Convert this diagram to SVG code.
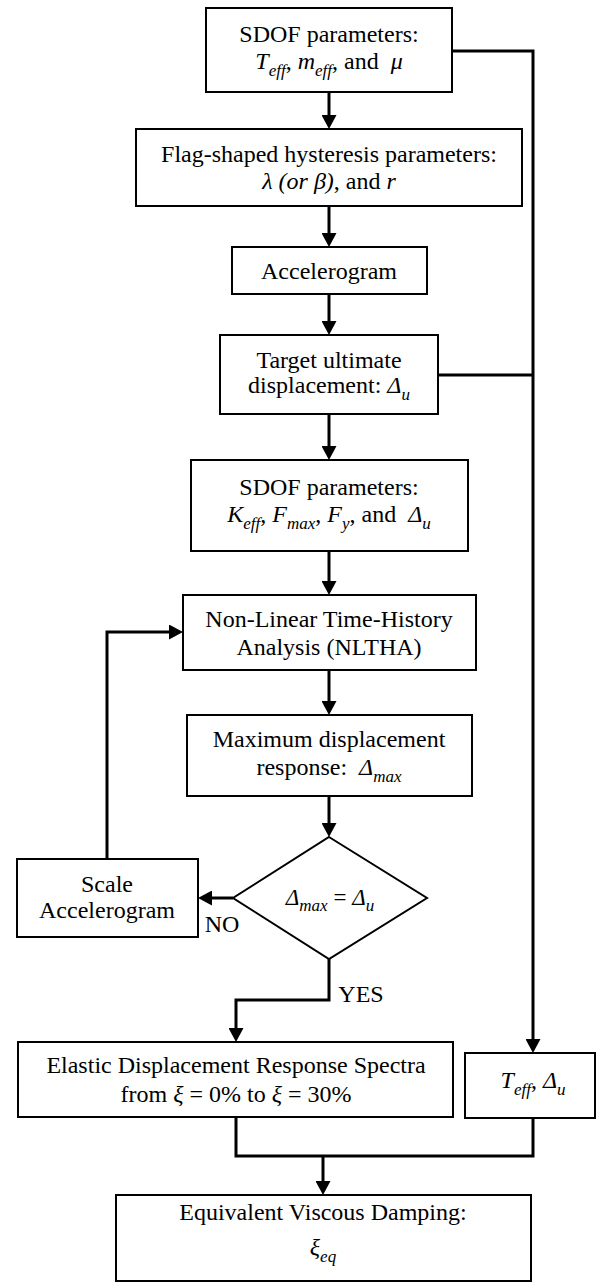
<svg xmlns="http://www.w3.org/2000/svg" width="597" height="1283" viewBox="0 0 597 1283">
<style>
.b{fill:#fff;stroke:#000;stroke-width:2}
.c{fill:none;stroke:#000;stroke-width:3}
.t{font-family:"Liberation Serif","Times New Roman",serif;font-size:24px;fill:#000;text-anchor:middle}
.i{font-style:italic}
.s{font-size:17px}
</style>
<defs>
<marker id="ah" markerUnits="userSpaceOnUse" viewBox="0 0 14 15" markerWidth="14" markerHeight="15" refX="2" refY="7.5" orient="auto">
<path d="M0,0 L14,7.5 L0,15 Z" fill="#000"/>
</marker>
</defs>
<rect width="597" height="1283" fill="#fff"/>
<g id="connectors">
<path class="c" d="M329,92 V117" marker-end="url(#ah)"/>
<path class="c" d="M329,206 V235" marker-end="url(#ah)"/>
<path class="c" d="M329,294 V323" marker-end="url(#ah)"/>
<path class="c" d="M329,414 V448" marker-end="url(#ah)"/>
<path class="c" d="M329,551 V583" marker-end="url(#ah)"/>
<path class="c" d="M329,670 V703" marker-end="url(#ah)"/>
<path class="c" d="M329,796 V825" marker-end="url(#ah)"/>
<path class="c" d="M233,898 H210" marker-end="url(#ah)"/>
<path class="c" d="M107,859 V632 H171" marker-end="url(#ah)"/>
<path class="c" d="M329,959 V1000 H236 V1030" marker-end="url(#ah)"/>
<path class="c" d="M452,51 H533 V1041" marker-end="url(#ah)"/>
<path class="c" d="M438,375 H533"/>
<path class="c" d="M236,1117 V1156 H533 V1118"/>
<path class="c" d="M323,1156 V1183" marker-end="url(#ah)"/>
</g>
<g id="n1"><rect class="b" x="206" y="8" width="246" height="84"/>
<text class="t" x="329" y="42">SDOF parameters:</text>
<text class="t" x="329" y="69"><tspan class="i">T</tspan><tspan class="i s" dy="7">eff</tspan><tspan dy="-7">, </tspan><tspan class="i">m</tspan><tspan class="i s" dy="7">eff</tspan><tspan dy="-7">, and&#160; </tspan><tspan class="i">μ</tspan></text></g>
<g id="n2"><rect class="b" x="136" y="129" width="386" height="77"/>
<text class="t" x="329" y="162">Flag-shaped hysteresis parameters:</text>
<text class="t" x="329" y="189"><tspan class="i">λ (or β)</tspan>, and <tspan class="i">r</tspan></text></g>
<g id="n3"><rect class="b" x="232" y="247" width="195" height="47"/>
<text class="t" x="329" y="279">Accelerogram</text></g>
<g id="n4"><rect class="b" x="220" y="335" width="218" height="79"/>
<text class="t" x="329" y="368">Target ultimate</text>
<text class="t" x="329" y="393">displacement: <tspan class="i">Δ</tspan><tspan class="i s" dy="7">u</tspan></text></g>
<g id="n5"><rect class="b" x="191" y="460" width="277" height="91"/>
<text class="t" x="329" y="495">SDOF parameters:</text>
<text class="t" x="329" y="522"><tspan class="i">K</tspan><tspan class="i s" dy="7">eff</tspan><tspan dy="-7">, </tspan><tspan class="i">F</tspan><tspan class="i s" dy="7">max</tspan><tspan dy="-7">, </tspan><tspan class="i">F</tspan><tspan class="i s" dy="7">y</tspan><tspan dy="-7">, and&#160; </tspan><tspan class="i">Δ</tspan><tspan class="i s" dy="7">u</tspan></text></g>
<g id="n6"><rect class="b" x="183" y="595" width="293" height="75"/>
<text class="t" x="329" y="627">Non-Linear Time-History</text>
<text class="t" x="329" y="655">Analysis (NLTHA)</text></g>
<g id="n7"><rect class="b" x="187" y="715" width="285" height="81"/>
<text class="t" x="329" y="747">Maximum displacement</text>
<text class="t" x="329" y="775">response:&#160; <tspan class="i">Δ</tspan><tspan class="i s" dy="7">max</tspan></text></g>
<g id="n8"><path class="b" d="M329,837 L427,898 L329,959 L233,898 Z"/>
<text class="t" x="330" y="905" style="font-size:23px"><tspan class="i">Δ</tspan><tspan class="i" style="font-size:17px" dy="6">max</tspan><tspan dy="-6"> = </tspan><tspan class="i">Δ</tspan><tspan class="i" style="font-size:17px" dy="6">u</tspan></text></g>
<g id="n9"><rect class="b" x="17" y="859" width="181" height="78"/>
<text class="t" x="107" y="892">Scale</text>
<text class="t" x="107" y="918">Accelerogram</text></g>
<g id="labels">
<text class="t" x="222" y="932">NO</text>
<text class="t" x="361" y="1002">YES</text>
</g>
<g id="n10"><rect class="b" x="18" y="1042" width="435" height="75"/>
<text class="t" x="236" y="1073">Elastic Displacement Response Spectra</text>
<text class="t" x="236" y="1102">from <tspan class="i">ξ</tspan> = 0% to <tspan class="i">ξ</tspan> = 30%</text></g>
<g id="n11"><rect class="b" x="465" y="1053" width="130" height="65"/>
<text class="t" x="533" y="1088"><tspan class="i">T</tspan><tspan class="i s" dy="7">eff</tspan><tspan dy="-7">, </tspan><tspan class="i">Δ</tspan><tspan class="i s" dy="7">u</tspan></text></g>
<g id="n12"><rect class="b" x="116" y="1195" width="415" height="86"/>
<text class="t" x="323" y="1220">Equivalent Viscous Damping:</text>
<text class="t" x="323" y="1255"><tspan class="i">ξ</tspan><tspan class="i s" dy="7">eq</tspan></text></g>
</svg>
